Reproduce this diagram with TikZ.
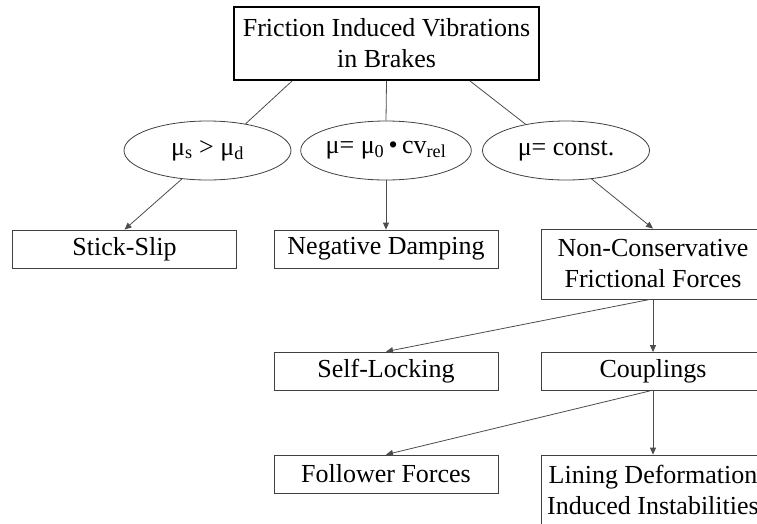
\documentclass[tikz,border=0pt]{standalone}
\usepackage{fontspec}
\setmainfont{Liberation Serif}
\usepackage{tikz}
\usetikzlibrary{shapes.geometric,arrows.meta}

\tikzset{
  topbox/.style={draw=black,line width=2pt,inner sep=0pt,align=center,
    minimum width=305pt,minimum height=73pt},
  leafbox/.style={draw=black!75,line width=0.8pt,inner sep=0pt,align=center,
    minimum width=224pt,minimum height=38pt},
  tallbox/.style={leafbox,minimum height=70pt},
  condnode/.style={ellipse,draw=black!75,line width=0.8pt,inner sep=0pt,
    minimum width=167pt,minimum height=59pt},
  link/.style={draw=black!70,line width=0.8pt},
  arr/.style={link,-{Triangle[length=7pt,width=6pt]}}
}

\begin{document}
\begin{tikzpicture}[x=1pt,y=-1pt,font=\fontsize{26}{31}\selectfont]
\useasboundingbox (0,0) rectangle (757,523);
% root and conditions:
\node[topbox] (root) at (386.5,43.5) {Friction Induced Vibrations\\in Brakes};
\node[condnode] (cs) at (207.5,150.5) {μ\textsubscript{s} > μ\textsubscript{d}};
\node[condnode] (cv) at (386,150.5) {μ= μ\textsubscript{0}\,•\,cv\textsubscript{rel}};
\node[condnode] (cc) at (566,150.5) {μ= const.};
% mechanisms:
\node[leafbox] (stick) at (124.5,249) {Stick-Slip};
\node[leafbox] (negdamp) at (386,249) {Negative Damping};
\node[tallbox] (noncons) at (653,264) {Non-Conservative\\Frictional Forces};
\node[leafbox] (selflock) at (386,371) {Self-Locking};
\node[leafbox] (coupl) at (653,371.5) {Couplings};
\node[leafbox] (follow) at (386,474) {Follower Forces};
\node[tallbox] (lining) at (653,490) {Lining Deformation\\Induced Instabilities};
% links:
\path[link] ([xshift=-94.5pt]root.south) -- (cs.35);
\path[link] (root.south) -- (cv.north);
\path[link] ([xshift=83.5pt]root.south) -- (cc.147);
\path[arr] (cs.-132) -- (stick.north);
\path[arr] (cv.south) -- (negdamp.north);
\path[arr] (cc.-48) -- (noncons.north);
\path[arr] ([xshift=-3pt]noncons.south) -- (selflock.north);
\path[arr] (noncons.south) -- (coupl.north);
\path[arr] ([xshift=-3pt]coupl.south) -- (follow.north);
\path[arr] (coupl.south) -- (lining.north);
\end{tikzpicture}
\end{document}
